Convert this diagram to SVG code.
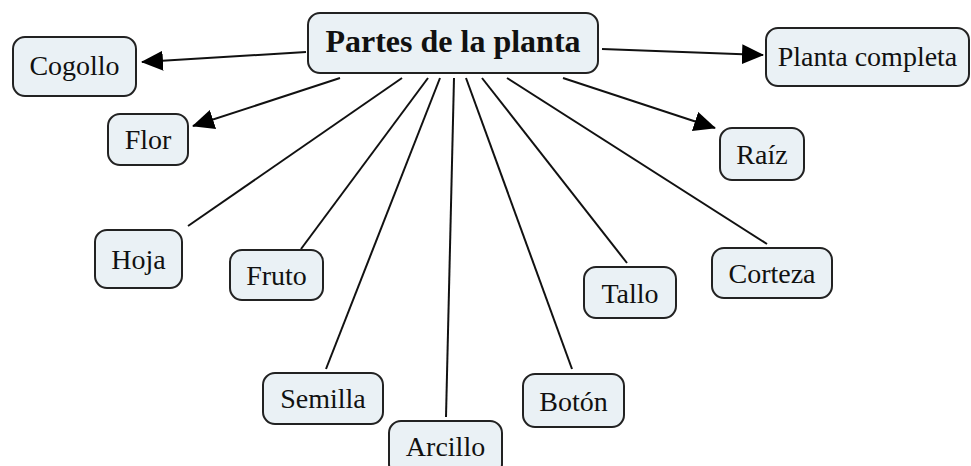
<svg xmlns="http://www.w3.org/2000/svg" width="971" height="466" viewBox="0 0 971 466">
<defs>
<style>
.box{fill:#eaf1f5;stroke:#222;stroke-width:2}
.lbl{font-family:"Liberation Serif","Times New Roman",serif;font-size:28px;fill:#111;text-anchor:middle}
.title{font-family:"Liberation Serif","Times New Roman",serif;font-size:32px;font-weight:bold;fill:#111;text-anchor:middle}
.ln{stroke:#111;stroke-width:2;fill:none}
.arr{marker-end:url(#ah)}
</style>
<marker id="ah" markerUnits="userSpaceOnUse" markerWidth="22" markerHeight="20" refX="21" refY="10" orient="auto">
<path d="M0,0 L22,10 L0,20 z" fill="#000"/>
</marker>
</defs>
<rect width="971" height="466" fill="#fff"/>
<g id="connectors">
<line class="ln arr" x1="306" y1="52" x2="142" y2="62"/>
<line class="ln arr" x1="602" y1="49" x2="763" y2="55"/>
<line class="ln arr" x1="340" y1="78" x2="193" y2="126"/>
<line class="ln arr" x1="563" y1="78" x2="715" y2="128"/>
<line class="ln" x1="402" y1="78" x2="188" y2="226"/>
<line class="ln" x1="428" y1="78" x2="301" y2="249"/>
<line class="ln" x1="440" y1="78" x2="326" y2="369"/>
<line class="ln" x1="454" y1="78" x2="446" y2="417"/>
<line class="ln" x1="466" y1="78" x2="572" y2="369"/>
<line class="ln" x1="482" y1="78" x2="627" y2="263"/>
<line class="ln" x1="507" y1="78" x2="767" y2="244"/>
</g>
<g id="main">
<rect class="box" x="308" y="13" width="290" height="60" rx="12"/>
<text class="title" x="453" y="52">Partes de la planta</text>
</g>
<g id="cogollo">
<rect class="box" x="13" y="37" width="123" height="59" rx="12"/>
<text class="lbl" x="74.5" y="75">Cogollo</text>
</g>
<g id="planta-completa">
<rect class="box" x="766" y="28" width="203" height="58" rx="12"/>
<text class="lbl" x="867.5" y="66">Planta completa</text>
</g>
<g id="flor">
<rect class="box" x="108" y="114" width="80" height="51" rx="12"/>
<text class="lbl" x="148" y="149">Flor</text>
</g>
<g id="raiz">
<rect class="box" x="720" y="128" width="84" height="52" rx="12"/>
<text class="lbl" x="762" y="164">Raíz</text>
</g>
<g id="hoja">
<rect class="box" x="95" y="230" width="87" height="58" rx="12"/>
<text class="lbl" x="138.5" y="269">Hoja</text>
</g>
<g id="fruto">
<rect class="box" x="230" y="250" width="93" height="50" rx="12"/>
<text class="lbl" x="276.5" y="285">Fruto</text>
</g>
<g id="semilla">
<rect class="box" x="263" y="373" width="120" height="51" rx="12"/>
<text class="lbl" x="323" y="408">Semilla</text>
</g>
<g id="arcillo">
<rect class="box" x="389" y="421" width="113" height="55" rx="12"/>
<text class="lbl" x="445.5" y="456">Arcillo</text>
</g>
<g id="boton">
<rect class="box" x="523" y="374" width="101" height="53" rx="12"/>
<text class="lbl" x="573.5" y="411">Botón</text>
</g>
<g id="tallo">
<rect class="box" x="584" y="267" width="92" height="51" rx="12"/>
<text class="lbl" x="630" y="303">Tallo</text>
</g>
<g id="corteza">
<rect class="box" x="712" y="248" width="120" height="50" rx="12"/>
<text class="lbl" x="772" y="283">Corteza</text>
</g>
</svg>
